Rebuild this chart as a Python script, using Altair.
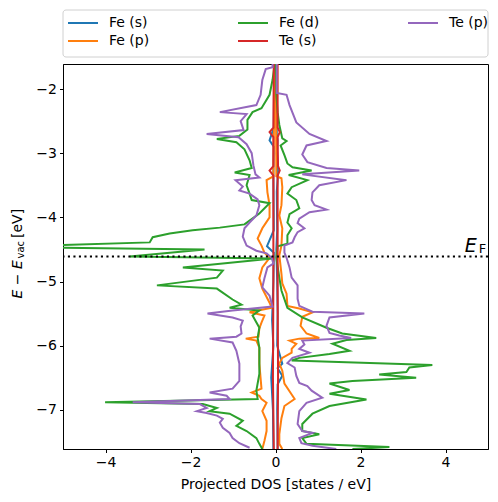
import altair as alt
import pandas as pd

# ---- projected DOS curves: (E - E_vac [eV], DOS [states/eV]); spin up > 0, spin down < 0
fe_s_up = [(-1.61,0.03),(-2.70,0.03),(-2.80,0.05),(-3.00,0.03),(-3.30,0.06),(-3.60,0.03),(-4.20,0.04),
           (-4.50,0.02),(-5.00,0.04),(-5.50,0.05),(-6.00,0.04),(-6.28,0.16),(-6.35,0.05),(-6.47,0.16),
           (-6.60,0.05),(-7.00,0.04),(-7.61,0.05)]
fe_s_dn = [(-1.61,-0.03),(-2.60,-0.04),(-2.80,-0.14),(-2.90,-0.04),(-3.30,-0.05),(-4.20,-0.04),(-4.45,-0.20),
           (-4.55,-0.04),(-5.00,-0.05),(-5.60,-0.08),(-6.00,-0.05),(-6.50,-0.10),(-7.00,-0.06),(-7.61,-0.05)]

fe_p_up = [(-1.61,0.01),(-3.36,0.02),(-3.39,0.14),(-3.53,0.16),(-3.81,0.14),(-3.97,0.09),(-4.17,0.16),
           (-4.44,0.14),(-4.59,0.09),(-4.88,0.14),(-5.03,0.16),(-5.19,0.26),(-5.38,0.28),(-5.42,0.56),
           (-5.48,0.87),(-5.55,0.63),(-5.69,0.59),(-5.81,0.73),(-5.88,1.03),(-5.89,0.56),(-5.92,0.33),
           (-5.97,0.49),(-6.05,0.38),(-6.11,0.38),(-6.19,0.16),(-6.28,0.09),(-6.39,0.16),(-6.59,0.21),
           (-6.78,0.40),(-6.83,0.45),(-6.94,0.21),(-7.13,0.14),(-7.38,0.09),(-7.53,0.09),(-7.61,0.16)]
fe_p_dn = [(-1.61,-0.02),(-3.36,-0.05),(-3.42,-0.21),(-3.61,-0.19),(-3.81,-0.14),(-4.00,-0.14),(-4.17,-0.31),
           (-4.33,-0.42),(-4.44,-0.33),(-4.55,-0.26),(-4.63,-0.14),(-4.78,-0.31),(-4.95,-0.38),(-5.11,-0.31),
           (-5.33,-0.14),(-5.41,-0.09),(-5.48,-0.61),(-5.53,-0.26),(-5.64,-0.33),(-5.73,-0.38),(-5.86,-0.40),
           (-5.89,-0.70),(-5.92,-0.45),(-6.03,-0.38),(-6.28,-0.38),(-6.67,-0.33),(-6.73,-0.56),(-6.78,-0.38),
           (-6.83,-0.33),(-6.89,-0.21),(-7.02,-0.31),(-7.17,-0.21),(-7.33,-0.21),(-7.48,-0.26),(-7.61,-0.31)]

fe_d_up = [(-1.61,0.01),(-2.09,0.02),(-2.36,0.05),(-2.56,0.09),(-2.77,0.16),(-2.81,0.26),(-2.88,0.12),
           (-3.03,0.21),(-3.16,0.28),(-3.22,0.40),(-3.27,0.85),(-3.34,0.31),(-3.42,0.75),(-3.53,0.38),
           (-3.63,0.28),(-3.73,0.49),(-3.86,0.56),(-3.95,0.33),(-4.08,0.28),(-4.17,0.38),(-4.28,0.28),
           (-4.41,0.28),(-4.45,0.05),(-4.63,0.02),(-4.94,0.09),(-5.14,0.14),(-5.41,0.28),(-5.56,0.63),
           (-5.72,1.20),(-5.81,1.57),(-5.88,2.37),(-5.91,1.67),(-5.97,1.34),(-6.08,1.74),(-6.13,1.27),
           (-6.19,0.56),(-6.23,0.38),(-6.30,3.69),(-6.34,3.15),(-6.41,3.08),(-6.45,2.44),(-6.50,3.31),
           (-6.55,1.81),(-6.59,1.27),(-6.69,1.74),(-6.75,1.27),(-6.84,2.14),(-6.94,1.27),(-7.06,0.87),
           (-7.22,0.63),(-7.33,0.63),(-7.38,1.03),(-7.44,0.63),(-7.53,0.73),(-7.58,2.68),(-7.61,1.81)]
fe_d_dn = [(-1.61,-0.02),(-1.86,-0.07),(-2.09,-0.14),(-2.30,-0.33),(-2.36,-0.54),(-2.48,-0.66),(-2.63,-0.66),
           (-2.73,-0.85),(-2.78,-1.38),(-2.83,-0.92),(-2.94,-0.73),(-3.11,-0.61),(-3.23,-0.56),(-3.30,-0.96),
           (-3.34,-0.61),(-3.50,-0.68),(-3.63,-0.61),(-3.73,-0.56),(-3.78,-0.14),(-3.94,-0.38),(-4.05,-0.61),
           (-4.11,-0.73),(-4.16,-1.31),(-4.20,-1.95),(-4.25,-2.49),(-4.31,-2.89),(-4.39,-2.96),(-4.46,-6.50),
           (-4.50,-1.67),(-4.61,-3.43),(-4.64,-0.07),(-4.78,-2.18),(-4.83,-1.24),(-4.94,-1.38),(-5.06,-2.79),
           (-5.11,-1.38),(-5.28,-1.01),(-5.36,-0.80),(-5.41,-1.08),(-5.45,-0.38),(-5.53,-0.54),(-5.72,-0.38),
           (-5.88,-0.42),(-6.03,-0.38),(-6.44,-0.38),(-6.70,-0.45),(-6.83,-0.42),(-6.88,-4.01),(-6.91,-1.71),
           (-6.97,-1.38),(-7.02,-1.55),(-7.06,-1.08),(-7.17,-0.77),(-7.25,-0.92),(-7.33,-0.68),(-7.44,-0.45),
           (-7.53,-0.38),(-7.61,-0.31)]

te_s_up = [(-1.61,0.05),(-2.60,0.05),(-2.67,0.10),(-2.75,0.05),(-3.20,0.06),(-3.27,0.10),(-3.35,0.05),
           (-5.00,0.05),(-6.50,0.06),(-7.61,0.05)]
te_s_dn = [(-1.61,-0.04),(-2.60,-0.05),(-2.67,-0.14),(-2.75,-0.05),(-3.20,-0.05),(-3.27,-0.14),(-3.35,-0.05),
           (-5.00,-0.05),(-6.50,-0.06),(-7.61,-0.04)]

te_p_up = [(-1.61,0.03),(-2.06,0.03),(-2.09,0.26),(-2.25,0.33),(-2.52,0.49),(-2.70,0.80),(-2.81,1.20),
           (-2.88,0.73),(-3.02,0.63),(-3.14,0.75),(-3.23,1.20),(-3.27,1.97),(-3.33,0.63),(-3.42,1.67),
           (-3.50,1.03),(-3.61,0.87),(-3.73,0.85),(-3.81,0.92),(-3.88,1.20),(-3.92,0.80),(-4.02,0.56),
           (-4.09,0.52),(-4.17,0.68),(-4.23,0.52),(-4.31,0.45),(-4.39,0.40),(-4.44,0.21),(-4.55,0.21),
           (-4.63,0.26),(-4.78,0.33),(-4.94,0.38),(-5.06,0.52),(-5.27,0.52),(-5.38,0.56),(-5.47,0.87),
           (-5.50,2.09),(-5.56,1.27),(-5.69,1.20),(-5.80,1.27),(-5.84,1.50),(-5.88,1.78),(-5.92,0.63),
           (-5.98,0.68),(-6.05,0.56),(-6.11,0.80),(-6.19,0.40),(-6.27,0.28),(-6.34,0.45),(-6.47,0.49),
           (-6.58,0.56),(-6.63,0.75),(-6.70,0.85),(-6.81,1.10),(-6.89,0.73),(-7.02,0.56),(-7.22,0.52),
           (-7.33,0.63),(-7.36,0.87),(-7.44,0.56),(-7.52,0.61),(-7.56,0.87),(-7.61,1.43)]
te_p_dn = [(-1.61,-0.07),(-1.66,-0.07),(-1.69,-0.23),(-1.86,-0.31),(-2.09,-0.35),(-2.25,-0.45),(-2.36,-1.31),
           (-2.39,-0.68),(-2.50,-0.82),(-2.64,-0.75),(-2.70,-1.62),(-2.75,-0.87),(-2.86,-0.68),(-3.00,-0.56),
           (-3.19,-0.52),(-3.33,-0.47),(-3.38,-0.38),(-3.42,-0.94),(-3.52,-0.77),(-3.58,-0.85),(-3.63,-0.61),
           (-3.72,-0.42),(-3.81,-0.38),(-3.97,-0.45),(-4.08,-0.61),(-4.17,-0.73),(-4.30,-0.77),(-4.44,-0.68),
           (-4.52,-0.45),(-4.56,-0.21),(-4.63,-0.09),(-4.72,-0.05),(-4.78,-0.19),(-4.95,-0.26),(-5.09,-0.31),
           (-5.22,-0.14),(-5.39,-0.07),(-5.45,-1.01),(-5.50,-1.60),(-5.56,-1.01),(-5.61,-0.77),(-5.70,-0.82),
           (-5.81,-0.80),(-5.86,-0.92),(-5.89,-1.55),(-5.95,-1.01),(-6.08,-0.92),(-6.28,-0.85),(-6.55,-0.85),
           (-6.67,-1.01),(-6.73,-1.55),(-6.78,-1.15),(-6.83,-1.08),(-6.88,-3.36),(-6.91,-1.78),(-6.97,-1.62),
           (-7.02,-1.85),(-7.05,-1.62),(-7.09,-1.38),(-7.14,-1.24),(-7.20,-1.31),(-7.28,-1.24),(-7.36,-1.08),
           (-7.44,-1.01),(-7.52,-0.85),(-7.59,-0.61)]

fermi_level = [-4.61]
x_ticks = [-4, -2, 0, 2, 4]
y_ticks = [-7, -6, -5, -4, -3, -2]
legend_order = ["Fe (s)", "Fe (p)", "Fe (d)", "Te (s)", "Te (p)"]
legend_colors = ["#1f77b4", "#ff7f0e", "#2ca02c", "#d62728", "#9467bd"]

curves = [("Fe (s)", "up", fe_s_up), ("Fe (s)", "down", fe_s_dn),
          ("Fe (p)", "up", fe_p_up), ("Fe (p)", "down", fe_p_dn),
          ("Fe (d)", "up", fe_d_up), ("Fe (d)", "down", fe_d_dn),
          ("Te (s)", "up", te_s_up), ("Te (s)", "down", te_s_dn),
          ("Te (p)", "up", te_p_up), ("Te (p)", "down", te_p_dn)]

rows = []
for orb, spin, pts in curves:
    for i, (e, d) in enumerate(pts):
        rows.append({"orbital": orb, "curve": orb + " " + spin, "idx": i, "E": e, "dos": d})
df = pd.DataFrame(rows)

FONT = "DejaVu Sans"
W, H = 425, 385

x_enc = alt.X("dos:Q", scale=alt.Scale(domain=[-5, 5], nice=False, zero=False),
              axis=alt.Axis(values=x_ticks, format="d", title="Projected DOS [states / eV]"))
y_enc = alt.Y("E:Q", scale=alt.Scale(domain=[-7.61, -1.61], nice=False, zero=False),
              axis=alt.Axis(values=y_ticks, format="d", title=None))

frame = alt.Chart(pd.DataFrame({"a": [0]})).mark_rect(
    fill="white", stroke="#d0d0d0", strokeWidth=1, cornerRadius=3, clip=False
).encode(x=alt.value(0), x2=alt.value(W), y=alt.value(-54), y2=alt.value(-7))

lines = alt.Chart(df).mark_line(strokeWidth=2, clip=True).encode(
    x=x_enc, y=y_enc,
    color=alt.Color("orbital:N", scale=alt.Scale(domain=legend_order, range=legend_colors),
                    legend=alt.Legend(title=None, orient="none", legendX=9, legendY=-52, columns=3,
                                      columnPadding=84, rowPadding=0, padding=0, gridAlign="all",
                                      symbolType="M-1.5,0H1.5", symbolSize=400, symbolStrokeWidth=2,
                                      labelFontSize=14, labelOffset=15, labelFont=FONT,
                                      labelColor="black")),
    detail="curve:N",
    order="idx:Q",
)

ef_rule = alt.Chart(pd.DataFrame({"E": fermi_level})).mark_rule(
    color="black", strokeWidth=2, strokeDash=[2.1, 3.4]
).encode(y=alt.Y("E:Q"))

ef_E = alt.Chart(pd.DataFrame({"dos": [4.45], "E": [fermi_level[0] + 0.063], "t": ["E"]})).mark_text(
    fontSize=19, fontStyle="italic", font=FONT, align="left", baseline="alphabetic", color="black"
).encode(x="dos:Q", y="E:Q", text="t:N")
ef_F = alt.Chart(pd.DataFrame({"dos": [4.78], "E": [fermi_level[0] + 0.047], "t": ["F"]})).mark_text(
    fontSize=13, font=FONT, align="left", baseline="alphabetic", color="black"
).encode(x="dos:Q", y="E:Q", text="t:N")

one = pd.DataFrame({"a": [0]})
yt1 = alt.Chart(one).mark_text(text="E − E", fontSize=14, fontStyle="italic", font=FONT, angle=270,
                               align="left", baseline="alphabetic", color="black", clip=False
                               ).encode(x=alt.value(-41), y=alt.value(234.5))
yt2 = alt.Chart(one).mark_text(text="vac", fontSize=10, font=FONT, angle=270,
                               align="left", baseline="alphabetic", color="black", clip=False
                               ).encode(x=alt.value(-39), y=alt.value(194.5))
yt3 = alt.Chart(one).mark_text(text="[eV]", fontSize=14, font=FONT, angle=270,
                               align="left", baseline="alphabetic", color="black", clip=False
                               ).encode(x=alt.value(-41), y=alt.value(174))

chart = alt.layer(frame, lines, ef_rule, ef_E, ef_F, yt1, yt2, yt3).properties(
    width=W, height=H,
    autosize=alt.AutoSizeParams(type="none"),
    padding={"left": 55, "top": 56, "right": 1, "bottom": 44},
).configure_view(stroke="black", strokeWidth=1).configure_axis(
    labelFont=FONT, titleFont=FONT, labelFontSize=14, titleFontSize=14,
    labelColor="black", titleColor="black", tickColor="black", domainColor="black",
    tickSize=3.5, tickWidth=1, domainWidth=1, labelPadding=3, titleFontWeight="normal",
    grid=False, titlePadding=8,
)

chart.save("out.html", embed_options={"renderer": "svg", "actions": False})
